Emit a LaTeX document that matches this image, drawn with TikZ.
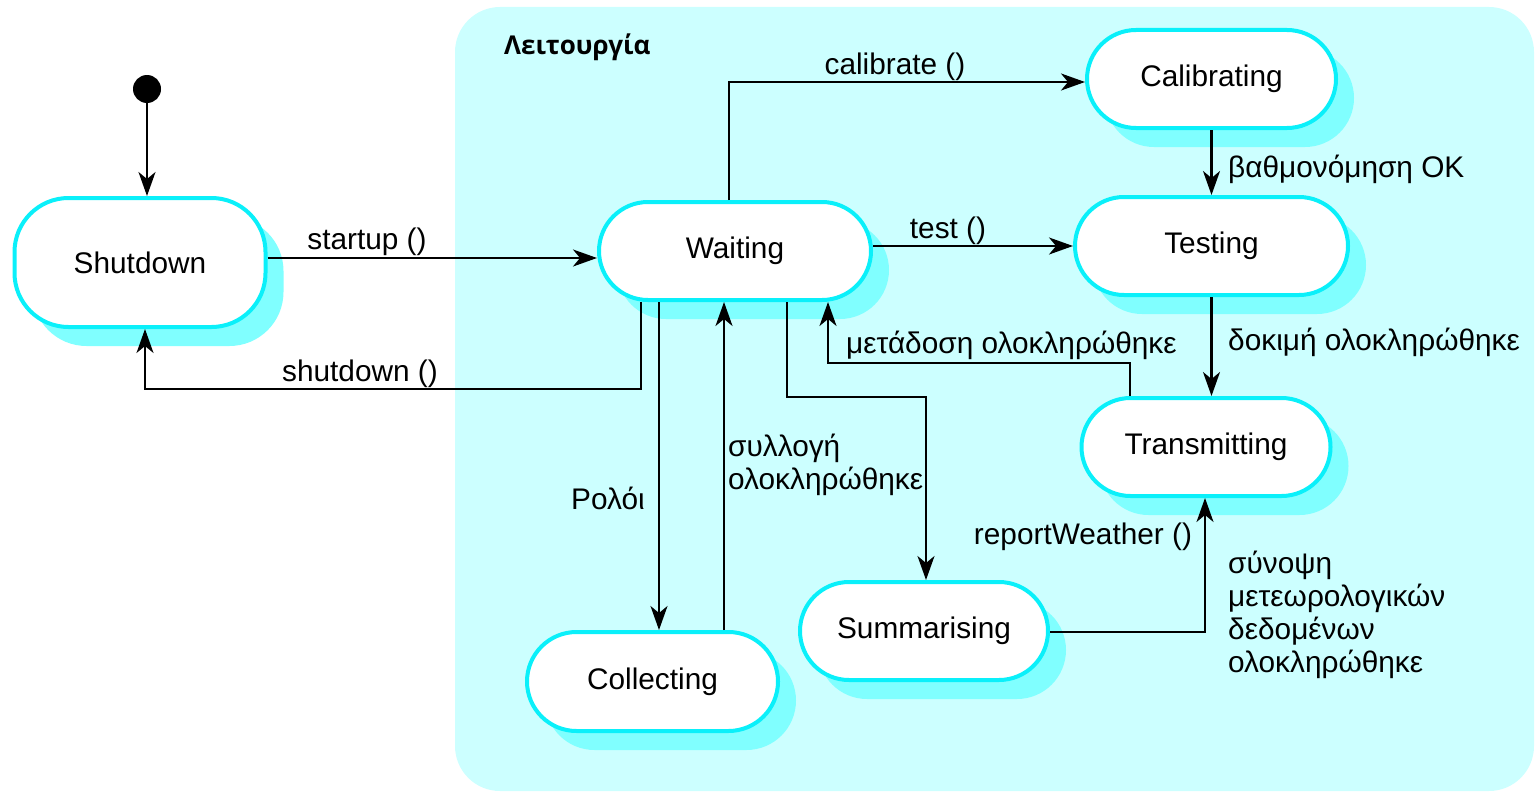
\documentclass[tikz,border=0pt]{standalone}
\usepackage{fontspec}
\setmainfont{Liberation Sans}
\newfontfamily\titlefont{Open Sans}
\usetikzlibrary{arrows.meta,shadows,shapes.misc}
\definecolor{region}{RGB}{204,255,255}
\definecolor{shade}{RGB}{128,255,255}
\definecolor{rim}{RGB}{10,240,250}
\begin{document}
\begin{tikzpicture}[x=1pt,y=-1pt,
  statebase/.style={draw=rim, line width=4pt, fill=white, inner sep=0pt,
    font=\fontsize{29.8}{34}\selectfont,
    general shadow={fill=shade, shadow xshift=18pt, shadow yshift=-19pt}},
  state/.style={statebase, rounded rectangle},
  arr/.style={line width=2.1pt, -{Stealth[length=24pt,width=17pt,inset=7pt]}},
  lbl/.style={inner sep=0pt, font=\fontsize{29.8}{33}\selectfont},
]
\useasboundingbox (0,0) rectangle (1536,792);
\fill[region, rounded corners=45pt] (455,7) rectangle (1534,791);
\node[anchor=west, inner sep=0pt, font=\titlefont\bfseries\fontsize{26}{30}\selectfont] (title) at (504,47) {Λειτουργία};

\node[circle, fill=black, minimum size=28pt, inner sep=0pt] (init) at (147,89) {};

\node[statebase, rectangle, rounded corners=54pt, minimum width=251pt, minimum height=129pt] (shutdown) at (140,262.5) {Shutdown};
\node[state, minimum width=272pt, minimum height=98pt] (waiting) at (735,251) {Waiting};
\node[state, minimum width=249pt, minimum height=98pt] (calibrating) at (1211.5,79) {Calibrating};
\node[state, minimum width=273pt, minimum height=98pt] (testing) at (1211.5,246) {Testing};
\node[state, minimum width=249pt, minimum height=98pt] (transmitting) at (1206,447) {Transmitting};
\node[state, minimum width=248pt, minimum height=98pt] (summarising) at (924,631) {Summarising};
\node[state, minimum width=251pt, minimum height=99pt] (collecting) at (652.5,681.5) {Collecting};

% bend points
\coordinate (ystart) at (0,258);
\coordinate (sd1) at (641,389);
\coordinate (sd2) at (145,389);
\coordinate (cal1) at (729,82);
\coordinate (ytest) at (0,246);
\coordinate (tr1) at (1130,363);
\coordinate (tr2) at (828,363);
\coordinate (xrol) at (659,0);
\coordinate (xsyl) at (724,0);
\coordinate (su1) at (787,397);
\coordinate (su2) at (926,397);
\coordinate (rw1) at (1205,632);

\draw[arr] (init) -- (init |- shutdown.north);
\draw[arr] (shutdown.east |- ystart) -- (waiting.west |- ystart);
\draw[arr] (waiting.south -| sd1) -- (sd1) -- (sd2) -- (shutdown.south -| sd2);
\draw[arr] (waiting.north -| cal1) -- (cal1) -- (calibrating.west |- cal1);
\draw[arr] (calibrating.south) -- (testing.north);
\draw[arr] (waiting.east |- ytest) -- (testing.west |- ytest);
\draw[arr] (testing.south -| calibrating.south) -- (transmitting.north -| calibrating.south);
\draw[arr] (transmitting.north -| tr1) -- (tr1) -- (tr2) -- (waiting.south -| tr2);
\draw[arr] (waiting.south -| xrol) -- (collecting.north -| xrol);
\draw[arr] (collecting.north -| xsyl) -- (waiting.south -| xsyl);
\draw[arr] (waiting.south -| su1) -- (su1) -- (su2) -- (summarising.north -| su2);
\draw[arr] (summarising.east |- rw1) -- (rw1) -- (transmitting.south -| rw1);

\node[lbl] (lstart) at (367,242) {startup ()};
\node[lbl] (lshut) at (360,374) {shutdown ()};
\node[lbl] (lcal) at (895,67) {calibrate ()};
\node[lbl, anchor=west] (lok) at (1228,169) {βαθμονόμηση OK};
\node[lbl] (ltest) at (948,231) {test ()};
\node[lbl, anchor=west] (ldok) at (1228,342) {δοκιμή ολοκληρώθηκε};
\node[lbl, anchor=west] (lmet) at (846,345) {μετάδοση ολοκληρώθηκε};
\node[lbl] (lrol) at (608,498) {Ρολόι};
\node[lbl, anchor=west, align=left] (lsyl) at (728,464.5) {συλλογή\\ολοκληρώθηκε};
\node[lbl] (lrep) at (1083,537) {reportWeather ()};
\node[lbl, anchor=west, align=left] (lsyn) at (1228,615) {σύνοψη\\μετεωρολογικών\\δεδομένων\\ολοκληρώθηκε};
\end{tikzpicture}
\end{document}
